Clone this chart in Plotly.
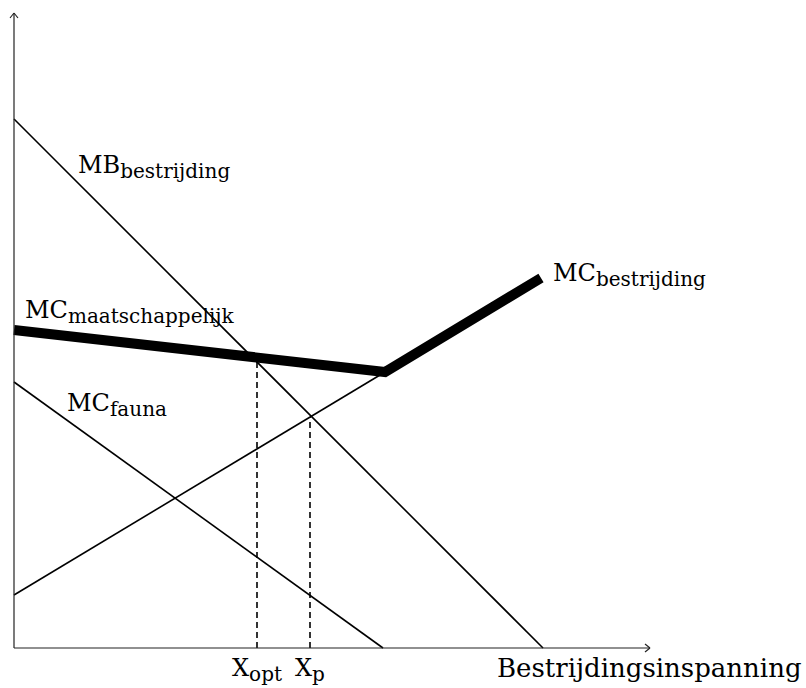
import plotly.graph_objects as go

# Data (schematic units; origin at axes crossing)
mb_x = [0, 529]
mb_y = [529, 0]
fauna_x = [0, 369]
fauna_y = [266, 0]
mcb_thin_x = [0, 371]
mcb_thin_y = [53, 276]
mcm_x = [0, 371, 527]
mcm_y = [318, 276, 370]
x_opt = 243
x_opt_top = 290
x_p = 296
x_p_top = 231

FONT = "DejaVu Serif"
fig = go.Figure()
thin = dict(color="black", width=1.6)
fig.add_trace(go.Scatter(x=mb_x, y=mb_y, mode="lines", line=thin))
fig.add_trace(go.Scatter(x=fauna_x, y=fauna_y, mode="lines", line=thin))
fig.add_trace(go.Scatter(x=mcb_thin_x, y=mcb_thin_y, mode="lines", line=thin))
fig.add_trace(go.Scatter(x=mcm_x, y=mcm_y, mode="lines",
                         line=dict(color="black", width=10)))
dash = dict(color="black", width=1.6, dash="6px,4px")
fig.add_trace(go.Scatter(x=[x_opt, x_opt], y=[0, x_opt_top], mode="lines", line=dash))
fig.add_trace(go.Scatter(x=[x_p, x_p], y=[0, x_p_top], mode="lines", line=dash))

# axes
ax = dict(color="#222", width=1.2)
shapes = [
    dict(type="line", x0=0, y0=0, x1=0, y1=635, line=ax),
    dict(type="line", x0=0, y0=0, x1=636, y1=0, line=ax),
    dict(type="line", x0=-4, y0=630, x1=0, y1=635, line=ax),
    dict(type="line", x0=4, y0=630, x1=0, y1=635, line=ax),
    dict(type="line", x0=631, y0=4, x1=636, y1=0, line=ax),
    dict(type="line", x0=631, y0=-4, x1=636, y1=0, line=ax),
]

def sub(main, s, size=20):
    return f"{main}<sub><span style='font-size:{size}px'>{s}</span></sub>"

def lab(x, y, text, xanchor="left", size=24):
    return dict(x=x, y=y, text=text, showarrow=False, xanchor=xanchor,
                yanchor="middle", font=dict(family=FONT, size=size, color="black"))

ann = [
    lab(62, 481, sub("MB", "bestrijding")),
    lab(537, 373, sub("MC", "bestrijding")),
    lab(9, 336, sub("MC", "maatschappelijk")),
    lab(51, 243, sub("MC", "fauna")),
    lab(x_opt, -22, sub("X", "opt"), xanchor="center"),
    lab(x_p, -22, sub("X", "p"), xanchor="center"),
    lab(635, -20, "Bestrijdingsinspanning", xanchor="center", size=26),
]

fig.update_layout(
    width=806, height=688, margin=dict(l=0, r=0, t=0, b=0),
    paper_bgcolor="white", plot_bgcolor="white", showlegend=False,
    xaxis=dict(range=[-14, 792], visible=False),
    yaxis=dict(range=[-40, 648], visible=False),
    shapes=shapes, annotations=ann,
)
fig.write_html("out.html", config={"displayModeBar": False},
               post_script="document.body.style.margin='0';")
